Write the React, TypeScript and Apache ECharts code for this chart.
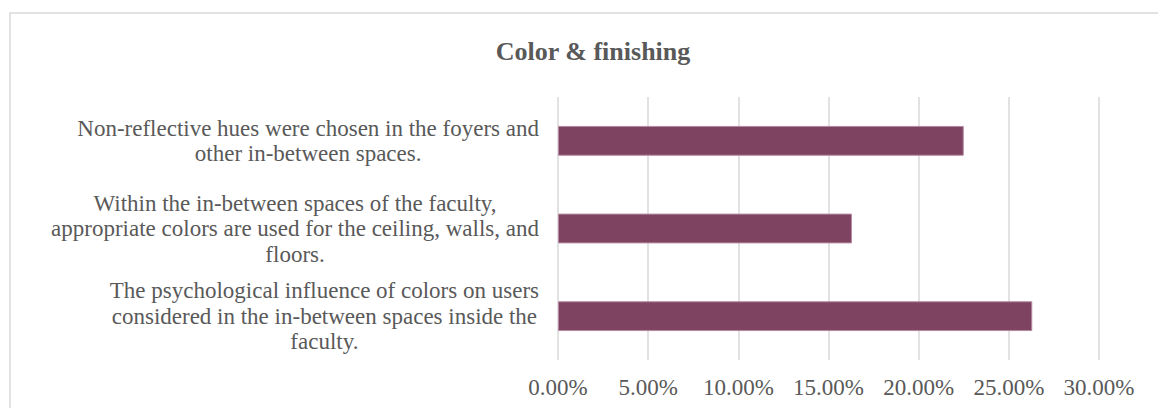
import React, { useEffect, useRef } from "react";
import * as echarts from "echarts";

// Survey statements, listed top to bottom (line breaks as laid out in the label column)
const categories: string[] = [
  "Non-reflective hues were chosen in the foyers and\nother in-between spaces.",
  "Within the in-between spaces of the faculty,\nappropriate colors are used for the ceiling, walls, and\nfloors.",
  "The psychological influence of colors on users\nconsidered in the in-between spaces inside the\nfaculty.",
];

// Share of respondents (fraction of 1)
const shares: number[] = [0.225, 0.163, 0.263];

// Value axis settings
const axisMin = 0;
const axisMax = 0.3;
const axisStep = 0.05;

const titleText = "Color & finishing";

const FONT = "'Liberation Serif', 'Times New Roman', serif";
const TEXT_COLOR = "#595959";

export default function App() {
  const ref = useRef<HTMLDivElement | null>(null);

  useEffect(() => {
    if (!ref.current) return;
    const chart = echarts.init(ref.current, undefined, { renderer: "svg" });

    chart.setOption({
      animation: false,
      backgroundColor: "#ffffff",
      title: {
        text: titleText,
        left: 588,
        textAlign: "center",
        top: 33,
        textStyle: {
          fontFamily: FONT,
          fontSize: 26,
          fontWeight: "bold",
          color: TEXT_COLOR,
        },
      },
      graphic: [
        {
          type: "rect",
          shape: { x: 10, y: 13, width: 1170, height: 420 },
          style: { fill: "none", stroke: "#d9d9d9", lineWidth: 1.5 },
          silent: true,
          z: -1,
        },
      ],
      grid: { left: 558, right: 59, top: 97, bottom: 48, containLabel: false },
      xAxis: {
        type: "value",
        min: axisMin,
        max: axisMax,
        interval: axisStep,
        axisLine: { show: false },
        axisTick: { show: false },
        splitLine: { show: true, lineStyle: { color: "#d9d9d9", width: 1.5 } },
        axisLabel: {
          margin: 16,
          fontFamily: FONT,
          fontSize: 23,
          color: TEXT_COLOR,
          formatter: (v: number) => (v * 100).toFixed(2) + "%",
        },
      },
      yAxis: {
        type: "category",
        inverse: true,
        data: categories,
        axisLine: { show: false },
        axisTick: { show: false },
        splitLine: { show: false },
        axisLabel: {
          margin: 19,
          fontFamily: FONT,
          fontSize: 23,
          color: TEXT_COLOR,
          formatter: (v: string) =>
            v
              .split("\n")
              .map((line) => `{c|${line}}`)
              .join("\n"),
          rich: {
            c: {
              align: "center",
              fontFamily: FONT,
              fontSize: 23,
              lineHeight: 25.5,
              color: TEXT_COLOR,
            },
          },
        },
      },
      series: [
        {
          type: "bar",
          data: shares,
          barWidth: "34%",
          itemStyle: {
            color: "#7e4360",
            borderColor: "#b58aa0",
            borderWidth: 1,
          },
        },
      ],
    });

    return () => chart.dispose();
  }, []);

  return (
    <div
      ref={ref}
      style={{ position: "absolute", left: 0, top: 0, width: 1158, height: 408 }}
    />
  );
}
